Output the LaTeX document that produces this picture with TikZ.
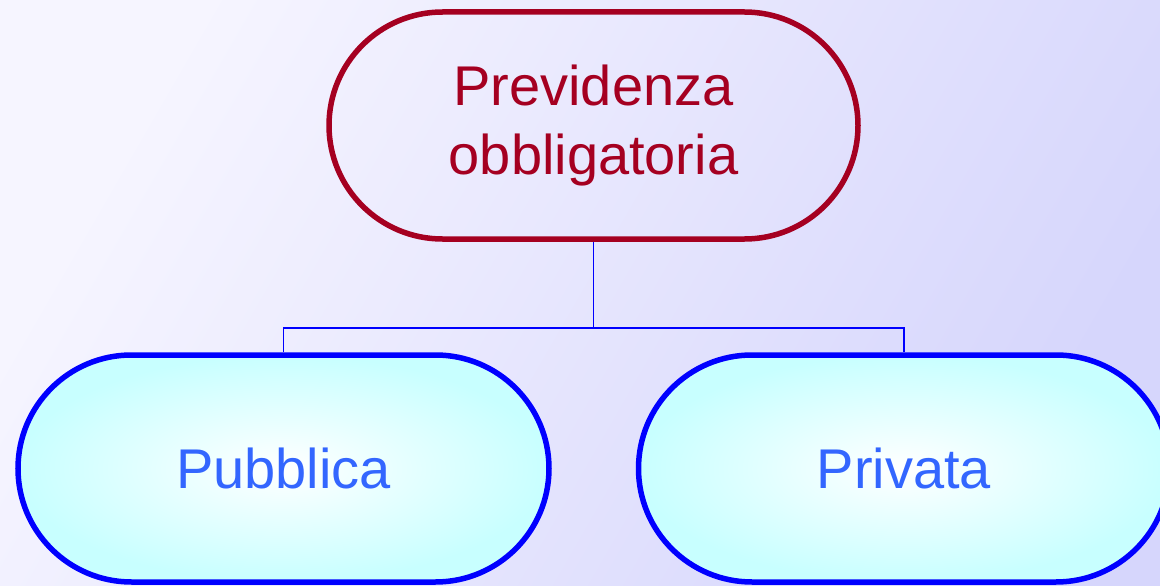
\documentclass[tikz,border=0pt]{standalone}
\usepackage{fontspec}
\setmainfont{Liberation Sans}
\usetikzlibrary{shapes.misc}
\definecolor{bgL}{RGB}{246,245,255}
\definecolor{bgR}{RGB}{214,214,252}
\definecolor{darkred}{RGB}{165,0,33}
\definecolor{txtblue}{RGB}{51,102,255}
\definecolor{lcyan}{RGB}{200,255,255}
\tikzset{
  topbox/.style={draw=darkred, line width=5.5pt, rounded rectangle, minimum width=529pt, minimum height=227pt, text=darkred, align=center, font=\fontsize{56}{69}\selectfont, inner sep=0pt},
  subbox/.style={draw=blue, line width=5.5pt, rounded rectangle, minimum width=531pt, minimum height=227pt, text=txtblue, font=\fontsize{56}{69}\selectfont, inner sep=0pt, shade, inner color=white, outer color=lcyan},
  link/.style={draw=blue, line width=1.5pt}
}
\begin{document}
\begin{tikzpicture}[x=1pt,y=-1pt]
\useasboundingbox (0,0) rectangle (1160,586);
\clip (0,0) rectangle (1160,586);
\shade[left color=bgL, right color=bgR, shading angle=60] (0,0) rectangle (1160,586);
\node[topbox] (top) at (593.5,125.5) {Previdenza\\obbligatoria};
\node[subbox] (pub) at (283.5,468.5) {Pubblica};
\node[subbox] (pri) at (904,468.5) {Privata};
\coordinate (mid) at (594,328);
\draw[link] (top.south) -- (top.south |- mid) -| (pub.north);
\draw[link] (top.south |- mid) -| (pri.north);
\end{tikzpicture}
\end{document}
